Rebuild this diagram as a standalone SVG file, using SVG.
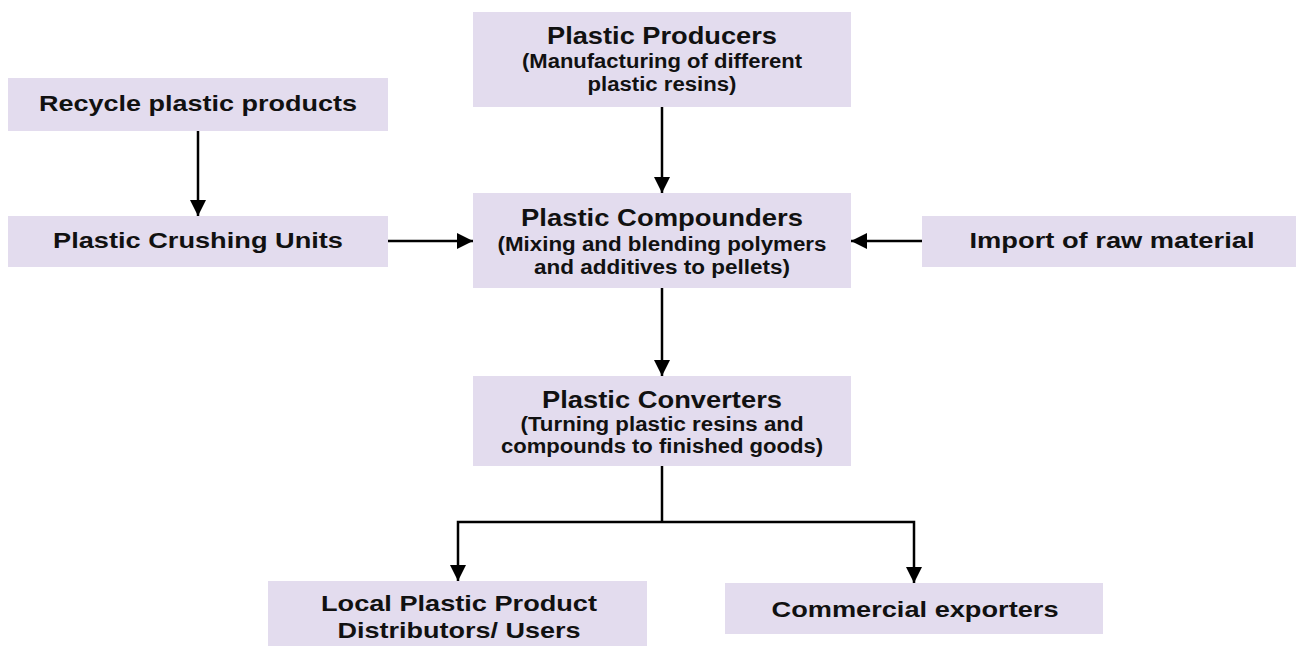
<svg xmlns="http://www.w3.org/2000/svg" width="1296" height="646" viewBox="0 0 1296 646">
<defs>
<marker id="ah" markerUnits="userSpaceOnUse" markerWidth="16" markerHeight="16" viewBox="0 0 14 14" refX="14" refY="7" orient="auto">
<path d="M0,0 L14,7 L0,14 Z" fill="#000"/>
</marker>
<style>
.box{fill:#E3DCEE;}
.t{font-family:"Liberation Sans",Arial,sans-serif;font-weight:bold;fill:#111;text-anchor:middle;}
.h{font-size:24px;}
.s{font-size:20px;}
.l{font-size:22px;}
.c{fill:none;stroke:#000;stroke-width:2.5;}
</style>
</defs>
<rect width="1296" height="646" fill="#fff"/>
<g id="producers">
<rect class="box" x="473" y="12" width="378" height="95"/>
<text class="t h" x="662" y="44" textLength="230" lengthAdjust="spacingAndGlyphs">Plastic Producers</text>
<text class="t s" x="662" y="68" textLength="280" lengthAdjust="spacingAndGlyphs">(Manufacturing of different</text>
<text class="t s" x="662" y="91" textLength="149" lengthAdjust="spacingAndGlyphs">plastic resins)</text>
</g>
<g id="recycle">
<rect class="box" x="8" y="78" width="380" height="53"/>
<text class="t l" x="198" y="111" textLength="318" lengthAdjust="spacingAndGlyphs">Recycle plastic products</text>
</g>
<g id="crushing">
<rect class="box" x="8" y="216" width="380" height="51"/>
<text class="t l" x="198" y="248" textLength="290" lengthAdjust="spacingAndGlyphs">Plastic Crushing Units</text>
</g>
<g id="compounders">
<rect class="box" x="473" y="193" width="378" height="95"/>
<text class="t h" x="662" y="226" textLength="282" lengthAdjust="spacingAndGlyphs">Plastic Compounders</text>
<text class="t s" x="662" y="251" textLength="329" lengthAdjust="spacingAndGlyphs">(Mixing and blending polymers</text>
<text class="t s" x="662" y="274" textLength="256" lengthAdjust="spacingAndGlyphs">and additives to pellets)</text>
</g>
<g id="import">
<rect class="box" x="922" y="216" width="374" height="51"/>
<text class="t l" x="1112" y="248" textLength="285" lengthAdjust="spacingAndGlyphs">Import of raw material</text>
</g>
<g id="converters">
<rect class="box" x="473" y="376" width="378" height="90"/>
<text class="t h" x="662" y="408" textLength="240" lengthAdjust="spacingAndGlyphs">Plastic Converters</text>
<text class="t s" x="662" y="431" textLength="283" lengthAdjust="spacingAndGlyphs">(Turning plastic resins and</text>
<text class="t s" x="662" y="453" textLength="322" lengthAdjust="spacingAndGlyphs">compounds to finished goods)</text>
</g>
<g id="local">
<rect class="box" x="268" y="581" width="379" height="70"/>
<text class="t l" x="459" y="611" textLength="276" lengthAdjust="spacingAndGlyphs">Local Plastic Product</text>
<text class="t l" x="459" y="638" textLength="243" lengthAdjust="spacingAndGlyphs">Distributors/ Users</text>
</g>
<g id="commercial">
<rect class="box" x="725" y="583" width="378" height="51"/>
<text class="t l" x="915" y="617" textLength="287" lengthAdjust="spacingAndGlyphs">Commercial exporters</text>
</g>
<g id="connectors">
<path class="c" d="M198,131 L198,216" marker-end="url(#ah)"/>
<path class="c" d="M662,107 L662,193" marker-end="url(#ah)"/>
<path class="c" d="M388,241 L473,241" marker-end="url(#ah)"/>
<path class="c" d="M922,241 L851,241" marker-end="url(#ah)"/>
<path class="c" d="M662,288 L662,376" marker-end="url(#ah)"/>
<path class="c" d="M662,466 L662,522"/>
<path class="c" d="M662,522 L458,522 L458,581" marker-end="url(#ah)"/>
<path class="c" d="M662,522 L914,522 L914,583" marker-end="url(#ah)"/>
</g>
</svg>
